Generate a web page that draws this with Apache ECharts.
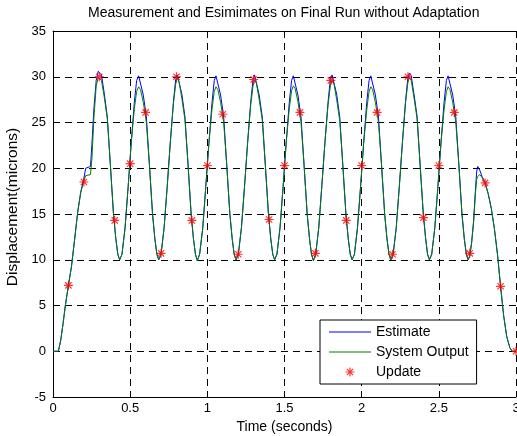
<!DOCTYPE html>
<html>
<head>
<meta charset="utf-8">
<script src="https://cdn.jsdelivr.net/npm/echarts@6/dist/echarts.min.js"></script>
<style>
html, body { margin: 0; padding: 0; background: #fff; }
#main { width: 517px; height: 436px; }
</style>
</head>
<body>
<div id="main"></div>
<script>
// sample times (s) shared by the two traces
var time = [
    0, 0.035, 0.05, 0.065, 0.08, 0.10, 0.12, 0.14, 0.16, 0.18, 0.20, 0.212, 0.243, 0.252, 0.265, 0.28, 0.293, 0.302,
    0.314, 0.332, 0.352, 0.372, 0.392, 0.407, 0.420, 0.432,
    0.447, 0.467, 0.487, 0.507, 0.527, 0.542, 0.555,
    0.567, 0.585, 0.605, 0.625, 0.645, 0.660, 0.673, 0.685,
    0.700, 0.720, 0.740, 0.760, 0.780, 0.795, 0.805,
    0.817, 0.835, 0.855, 0.875, 0.895, 0.910, 0.923, 0.935,
    0.950, 0.970, 0.990, 1.010, 1.030, 1.045, 1.056,
    1.068, 1.086, 1.106, 1.126, 1.146, 1.161, 1.174, 1.186,
    1.201, 1.221, 1.241, 1.261, 1.281, 1.296, 1.306,
    1.318, 1.336, 1.356, 1.376, 1.396, 1.411, 1.424, 1.436,
    1.451, 1.471, 1.491, 1.511, 1.531, 1.546, 1.557,
    1.569, 1.587, 1.607, 1.627, 1.647, 1.662, 1.675, 1.687,
    1.702, 1.722, 1.742, 1.762, 1.782, 1.797, 1.808,
    1.820, 1.838, 1.858, 1.878, 1.898, 1.913, 1.926, 1.938,
    1.953, 1.973, 1.993, 2.013, 2.033, 2.048, 2.059,
    2.071, 2.089, 2.109, 2.129, 2.149, 2.164, 2.177, 2.189,
    2.204, 2.224, 2.244, 2.264, 2.284, 2.299, 2.309,
    2.321, 2.339, 2.359, 2.379, 2.399, 2.414, 2.427, 2.439,
    2.454, 2.474, 2.494, 2.514, 2.534, 2.549, 2.560,
    2.572, 2.590, 2.610, 2.630, 2.650, 2.665, 2.678, 2.690,
    2.700, 2.712, 2.725, 2.737, 2.745, 2.752, 2.765, 2.780, 2.800, 2.820, 2.840, 2.860, 2.880, 2.900, 2.920, 2.940, 2.960, 2.975, 3.000
];

// Estimate (blue)
var estimate = [
    0, 0, 1.2, 3.0, 5.0, 7.2, 9.3, 12.2, 15.2, 17.4, 18.9, 20.0, 20.2, 22.6, 26.5, 29.6, 30.6, 30.7,
    30.2, 28.2, 25.6, 20.3, 15.0, 12.3, 10.6, 10.0,
    10.6, 13.5, 18.0, 22.8, 27.2, 29.6, 30.1,
    30.0, 28.0, 25.6, 20.3, 15.0, 12.3, 10.6, 10.0,
    10.6, 13.5, 18.0, 22.8, 27.2, 29.7, 30.2,
    30.0, 28.1, 25.6, 20.4, 15.0, 12.3, 10.6, 9.9,
    10.6, 13.4, 18.0, 22.7, 27.1, 29.6, 30.1,
    30.0, 28.0, 25.6, 20.3, 15.0, 12.3, 10.6, 10.0,
    10.6, 13.5, 18.0, 22.8, 27.2, 29.7, 30.2,
    30.0, 28.0, 25.6, 20.3, 15.0, 12.3, 10.6, 10.0,
    10.6, 13.5, 18.0, 22.8, 27.2, 29.6, 30.1,
    30.0, 28.0, 25.6, 20.3, 15.0, 12.3, 10.6, 9.9,
    10.6, 13.5, 18.1, 22.8, 27.2, 29.7, 30.2,
    30.0, 28.1, 25.6, 20.3, 15.0, 12.3, 10.6, 10.0,
    10.6, 13.5, 18.0, 22.8, 27.2, 29.6, 30.1,
    30.0, 28.0, 25.6, 20.3, 15.0, 12.3, 10.6, 10.0,
    10.6, 13.5, 18.0, 22.8, 27.3, 29.8, 30.4,
    30.1, 28.1, 25.7, 20.3, 15.1, 12.4, 10.6, 10.0,
    10.6, 13.5, 18.0, 22.8, 27.2, 29.6, 30.1,
    30.0, 28.0, 25.6, 20.3, 15.0, 12.3, 10.6, 10.0,
    10.4, 11.8, 14.2, 17.6, 19.6, 20.2, 19.8, 19.1, 18.4, 17.2, 15.6, 13.4, 10.6, 7.1, 3.9, 1.6, 0.4, 0, 0
];

// System Output (green)
var output = [
    0, 0, 1.2, 3.0, 5.0, 7.2, 9.3, 12.2, 15.2, 17.4, 18.6, 19.2, 19.3, 21.0, 25.5, 29.0, 29.9, 30.0,
    29.6, 27.8, 25.4, 20.3, 15.0, 12.3, 10.6, 10.0,
    10.6, 13.5, 18.0, 22.8, 26.5, 28.4, 28.9,
    28.6, 27.2, 25.0, 20.3, 15.0, 12.3, 10.6, 10.0,
    10.6, 13.5, 18.0, 22.8, 27.0, 29.2, 29.8,
    29.5, 27.6, 25.3, 20.4, 15.0, 12.3, 10.6, 9.9,
    10.6, 13.4, 18.0, 22.7, 26.4, 28.4, 28.9,
    28.6, 27.2, 25.0, 20.3, 15.0, 12.3, 10.6, 10.0,
    10.6, 13.5, 18.0, 22.8, 26.9, 29.0, 29.6,
    29.3, 27.5, 25.3, 20.3, 15.0, 12.3, 10.6, 10.0,
    10.6, 13.5, 18.0, 22.8, 26.5, 28.5, 29.0,
    28.7, 27.3, 25.0, 20.3, 15.0, 12.3, 10.6, 9.9,
    10.6, 13.5, 18.1, 22.8, 26.9, 29.0, 29.6,
    29.3, 27.5, 25.2, 20.3, 15.0, 12.3, 10.6, 10.0,
    10.6, 13.5, 18.0, 22.8, 26.4, 28.4, 28.9,
    28.6, 27.2, 25.0, 20.3, 15.0, 12.3, 10.6, 10.0,
    10.6, 13.5, 18.0, 22.8, 27.1, 29.3, 30.0,
    29.6, 27.7, 25.4, 20.3, 15.1, 12.4, 10.6, 10.0,
    10.6, 13.5, 18.0, 22.8, 26.4, 28.4, 28.9,
    28.6, 27.2, 25.0, 20.3, 15.0, 12.3, 10.6, 10.0,
    10.4, 11.8, 14.0, 17.2, 18.8, 19.1, 19.3, 19.0, 18.4, 17.2, 15.6, 13.4, 10.6, 7.1, 3.9, 1.6, 0.4, 0, 0
];

// Update points (red *)
var updateTime = [0.1, 0.2, 0.3, 0.4, 0.5, 0.6, 0.7, 0.8, 0.9, 1.0,
    1.1, 1.2, 1.3, 1.4, 1.5, 1.6, 1.7, 1.8, 1.9, 2.0,
    2.1, 2.2, 2.3, 2.4, 2.5, 2.6, 2.7, 2.8, 2.9, 3.0];
var updateValue = [7.2, 18.5, 30.0, 14.3, 20.5, 26.1, 10.7, 30.0, 14.3, 20.3,
    25.9, 10.6, 29.7, 14.4, 20.3, 26.1, 10.7, 29.6, 14.3, 20.3,
    26.1, 10.6, 30.0, 14.6, 20.3, 26.1, 10.7, 18.4, 7.1, 0];

var seriesNames = ['Estimate', 'System Output', 'Update'];

function pairs(xs, ys) {
    return xs.map(function (x, i) { return [x, ys[i]]; });
}

var font = '"Liberation Sans", Arial, Helvetica, sans-serif';
var star = 'path://M0,-5L0,5M-5,0L5,0M-3.5,-3.5L3.5,3.5M-3.5,3.5L3.5,-3.5';
var lineIcon = 'path://M0,0H42V1H0Z';
var gridLine = {show: true, lineStyle: {color: '#000', type: [7, 5], width: 1}};
var blackLine = {show: true, onZero: false, lineStyle: {color: '#000', width: 1}};
var tick = {show: true, inside: true, length: 4, lineStyle: {color: '#000'}};

var chart = echarts.init(document.getElementById('main'), null, {renderer: 'canvas'});

chart.setOption({
    animation: false,
    backgroundColor: '#fff',
    title: {
        text: 'Measurement and Esimimates on Final Run without Adaptation',
        left: 88,
        top: 0,
        padding: [6, 0, 0, 0],
        textStyle: {fontFamily: font, fontSize: 14, fontWeight: 'normal', color: '#000'}
    },
    grid: {left: 53, top: 31, right: 1, bottom: 39, containLabel: false, outerBoundsMode: 'none'},
    legend: {
        orient: 'vertical',
        left: 320,
        top: 320,
        padding: [5, 8, 5, 9],
        itemWidth: 42,
        itemHeight: 9,
        itemGap: 6,
        backgroundColor: '#fff',
        borderColor: '#000',
        borderWidth: 1,
        textStyle: {fontFamily: font, fontSize: 14, color: '#000'},
        data: [
            {name: seriesNames[0], icon: lineIcon, itemStyle: {color: '#0000ff'}},
            {name: seriesNames[1], icon: lineIcon, itemStyle: {color: '#008000'}},
            {name: seriesNames[2], icon: star,
                itemStyle: {color: 'none', borderColor: '#ff0000', borderWidth: 1.2}}
        ]
    },
    xAxis: [{
        type: 'value',
        min: 0,
        max: 3,
        interval: 0.5,
        position: 'bottom',
        name: 'Time (seconds)',
        nameLocation: 'middle',
        nameGap: 22,
        nameTextStyle: {fontFamily: font, fontSize: 14, color: '#000'},
        axisLine: blackLine,
        axisTick: tick,
        axisLabel: {margin: 5, color: '#000', fontSize: 13, fontFamily: font},
        splitLine: gridLine
    }, {
        type: 'value',
        min: 0,
        max: 3,
        interval: 0.5,
        position: 'top',
        axisLine: blackLine,
        axisTick: tick,
        axisLabel: {show: false},
        splitLine: {show: false}
    }],
    yAxis: [{
        type: 'value',
        min: -5,
        max: 35,
        interval: 5,
        name: 'Displacement(microns)',
        nameLocation: 'middle',
        nameGap: 20,
        nameRotate: 90,
        nameTextStyle: {fontFamily: font, fontSize: 15.5, color: '#000', padding: [0, 0, 0, 14]},
        axisLine: blackLine,
        axisTick: tick,
        axisLabel: {margin: 7, color: '#000', fontSize: 13, fontFamily: font},
        splitLine: gridLine
    }],
    series: [{
        name: seriesNames[0],
        type: 'line',
        symbol: 'none',
        lineStyle: {color: '#0000ff', width: 1},
        itemStyle: {color: '#0000ff'},
        data: pairs(time, estimate)
    }, {
        name: seriesNames[1],
        type: 'line',
        symbol: 'none',
        lineStyle: {color: '#008000', width: 1},
        itemStyle: {color: '#008000'},
        data: pairs(time, output)
    }, {
        name: seriesNames[2],
        type: 'scatter',
        symbol: star,
        symbolSize: 9,
        itemStyle: {color: 'none', borderColor: '#ff0000', borderWidth: 1.2},
        data: pairs(updateTime, updateValue),
        z: 5
    }]
});
</script>
</body>
</html>
